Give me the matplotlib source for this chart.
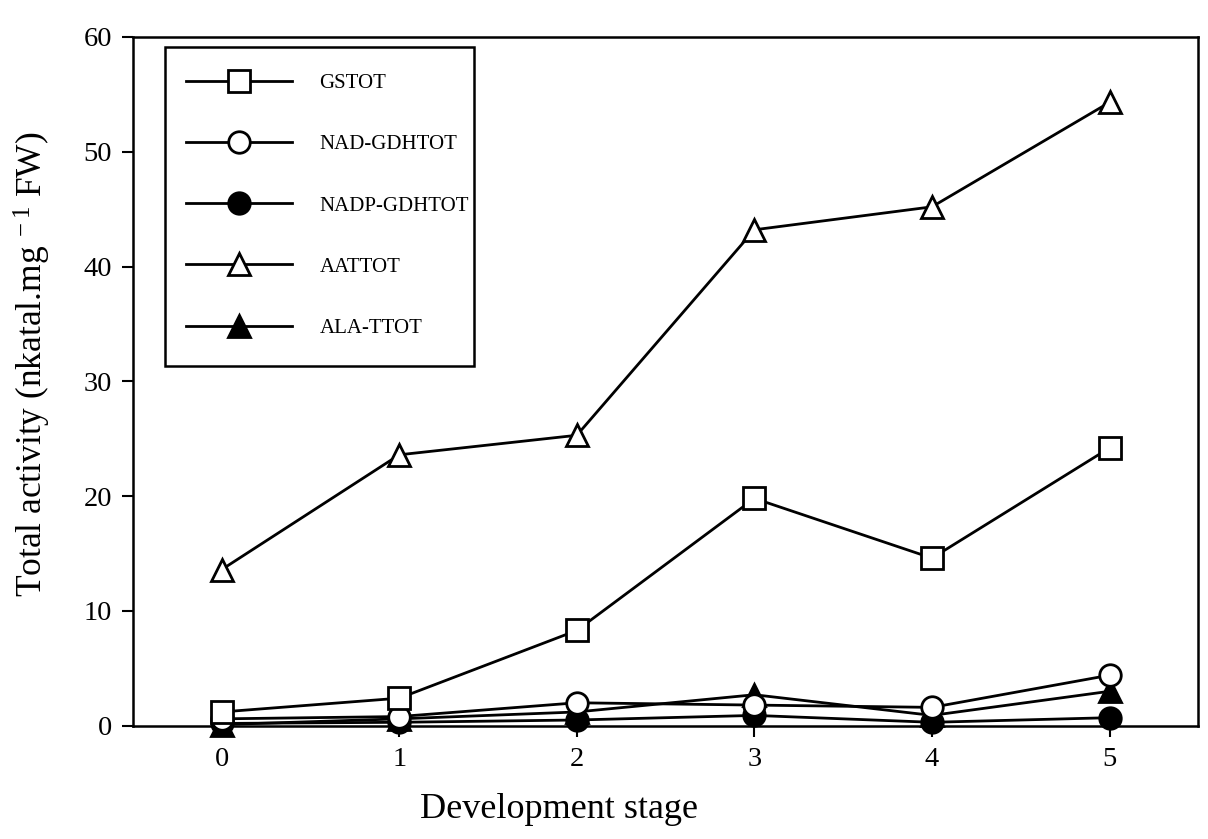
import matplotlib
matplotlib.use("Agg")
import matplotlib.pyplot as plt
import matplotlib.patches as mpatches

plt.rcParams.update({
    "font.family": "serif",
    "font.serif": ["Liberation Serif", "DejaVu Serif"],
    "mathtext.fontset": "custom",
    "mathtext.rm": "Liberation Serif",
    "mathtext.it": "Liberation Serif:italic",
})

# Total enzyme activity per development stage
stages = [0, 1, 2, 3, 4, 5]
gs_tot = [1.2, 2.4, 8.3, 19.8, 14.6, 24.2]
nad_gdh_tot = [0.6, 0.8, 2.0, 1.8, 1.6, 4.4]
nadp_gdh_tot = [0.2, 0.3, 0.5, 0.9, 0.3, 0.7]
aat_tot = [13.6, 23.6, 25.3, 43.2, 45.2, 54.3]
ala_t_tot = [0.1, 0.6, 1.2, 2.7, 0.9, 3.0]

# label, values, marker, face colour, draw order
series = [
    ("GSTOT", gs_tot, "s", "white", 5),
    ("NAD-GDHTOT", nad_gdh_tot, "o", "white", 4),
    ("NADP-GDHTOT", nadp_gdh_tot, "o", "black", 2),
    ("AATTOT", aat_tot, "^", "white", 5),
    ("ALA-TTOT", ala_t_tot, "^", "black", 3),
]

fig = plt.figure(figsize=(12.08, 8.39), dpi=100)
ax = fig.add_axes([0.110, 0.135, 0.882, 0.821])

for label, vals, mk, fc, z in series:
    ax.plot(stages, vals, color="black", lw=2, marker=mk,
            markersize=15.5 if mk != "^" else 16.5,
            markerfacecolor=fc, markeredgecolor="black", markeredgewidth=2,
            label=label, clip_on=False, zorder=z)

ax.set_xlim(-0.5, 5.5)
ax.set_ylim(0, 60)
ax.set_xticks(stages)
ax.set_yticks(range(0, 61, 10))
ax.tick_params(direction="out", length=8, width=1.5, labelsize=20.5, pad=7)
for sp in ax.spines.values():
    sp.set_linewidth(1.8)

ax.set_xlabel("Development stage", fontsize=26)
ax.set_ylabel(r"Total activity (nkatal.mg$^{\ -1}$ FW)", fontsize=25.5)
ax.xaxis.set_label_coords(0.40, -0.098)
ax.yaxis.set_label_coords(-0.075, 0.525)

# legend entries without their own frame; the box is drawn separately
leg = ax.legend(loc="upper left", bbox_to_anchor=(0.050, 0.947), fontsize=15,
                handlelength=5.1, handletextpad=1.3, labelspacing=2.0,
                borderpad=0, borderaxespad=0, frameon=False)
leg.set_zorder(7)
box = mpatches.Rectangle((0.030, 0.522), 0.290, 0.463, transform=ax.transAxes,
                         facecolor="white", edgecolor="black", lw=1.8, zorder=6)
ax.add_patch(box)

fig.savefig("out.png", dpi=100)
